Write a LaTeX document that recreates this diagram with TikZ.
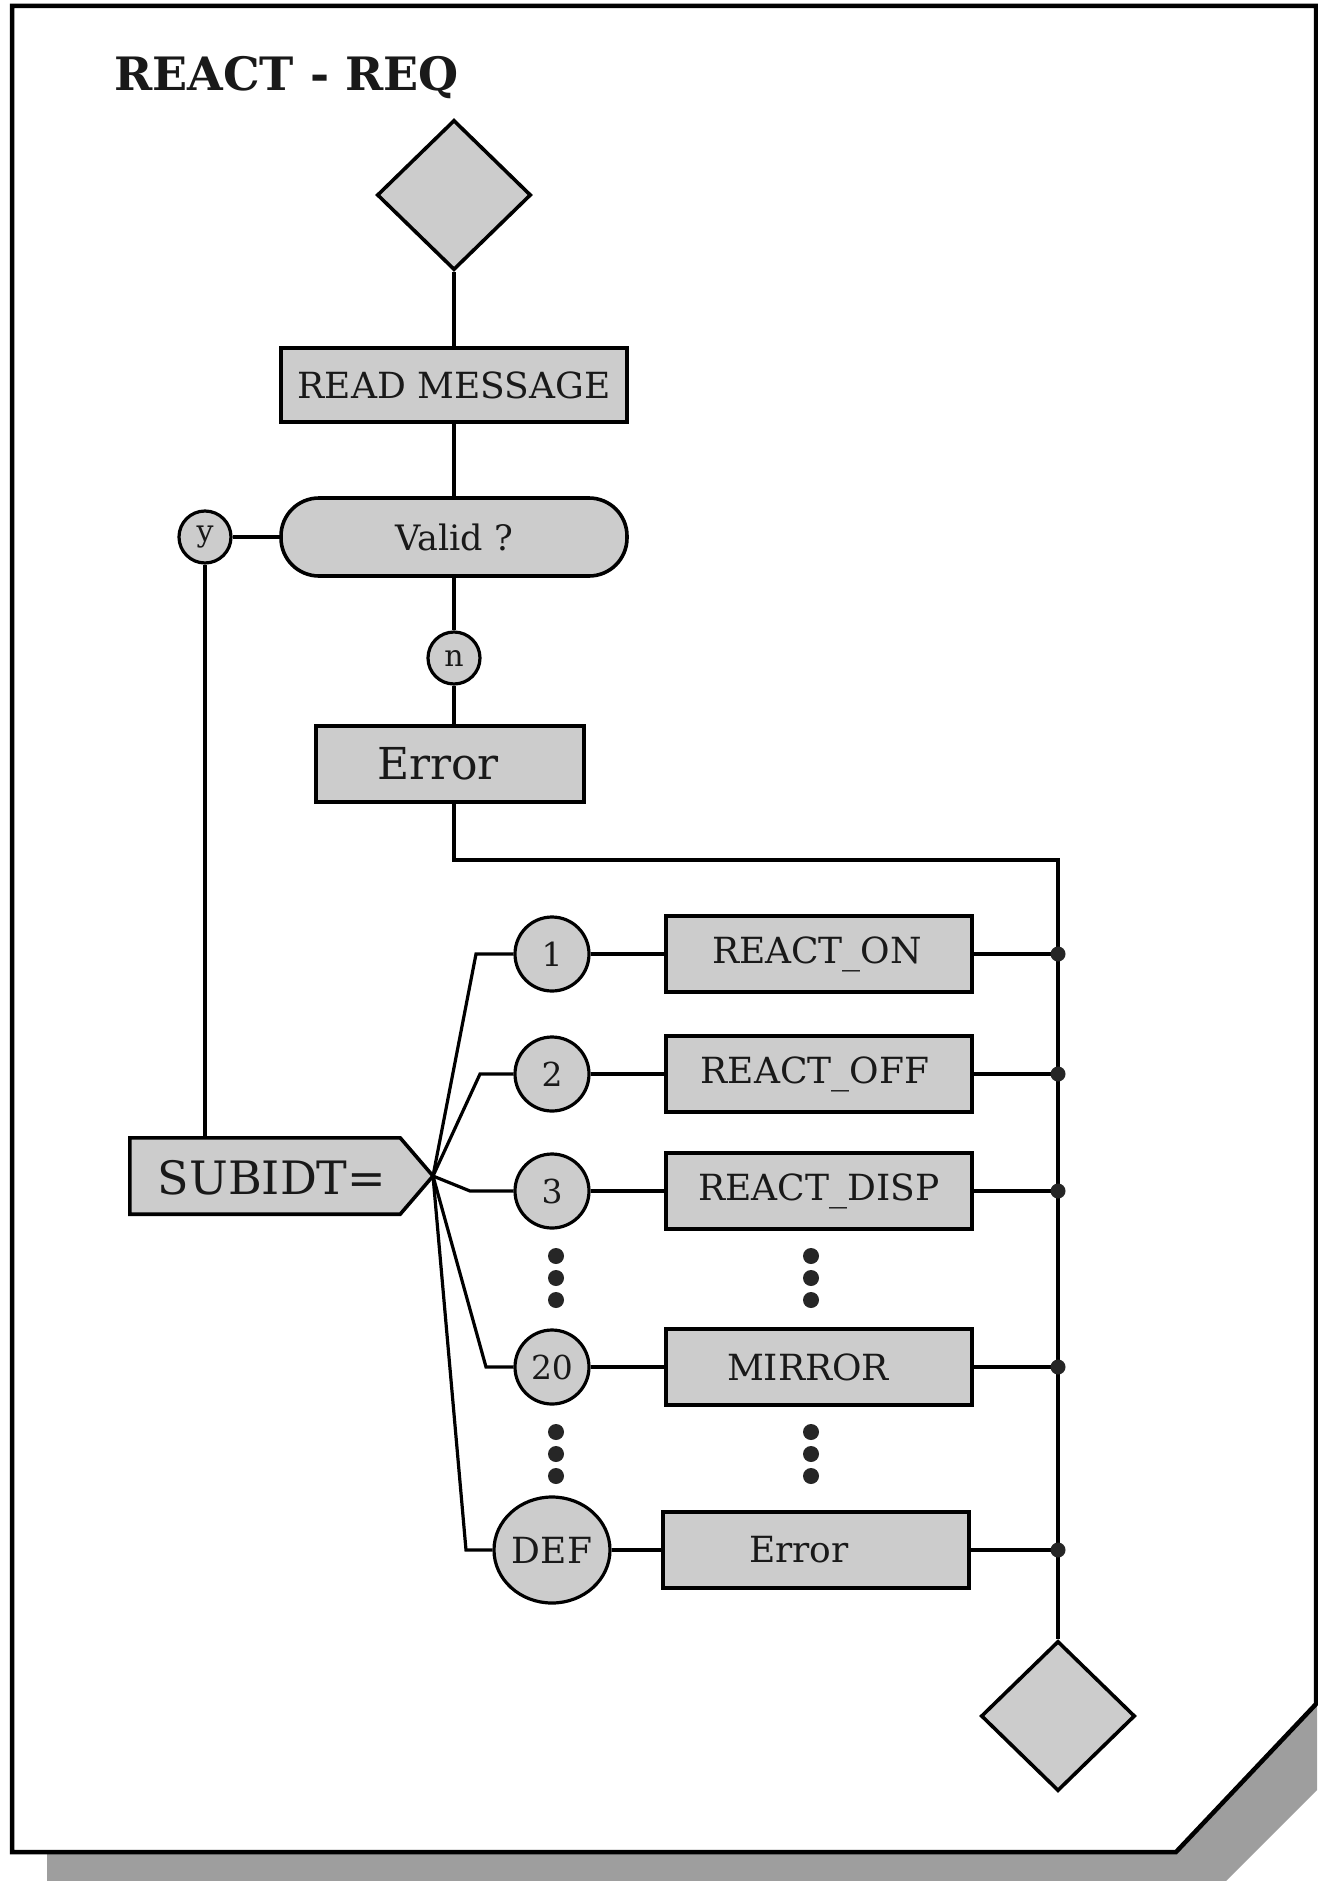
\documentclass[tikz,border=0pt]{standalone}
\usepackage{fontspec}
\setmainfont{DejaVu Serif}
\usetikzlibrary{shapes.geometric}
\definecolor{shade}{gray}{0.80}
\definecolor{shadowc}{gray}{0.62}
\newcommand\myfs[1]{\fontsize{#1}{#1}\selectfont}
\newcommand\lsh[1]{\hspace*{-#1}}
\tikzset{
  conn/.style={line width=3.2pt},
  boxst/.style={draw, rectangle, line width=3.6pt, fill=shade, inner sep=0pt, text=black!90},
  circst/.style={draw, circle, line width=3.2pt, fill=shade, inner sep=0pt, text=black!90},
  ellst/.style={draw, ellipse, line width=3.2pt, fill=shade, inner sep=0pt, text=black!90},
  diast/.style={draw, diamond, line width=3.6pt, fill=shade, inner sep=0pt, minimum width=154pt, minimum height=150pt},
  junc/.style={fill=black!85},
}
\begin{document}
\begin{tikzpicture}[x=1pt,y=-1pt]
\useasboundingbox (0,0) rectangle (1317,1881);
% shadow and frame
\fill[shadowc] (47,1852) -- (1176,1852) -- (1317,1702) -- (1317,1790) -- (1226,1881) -- (47,1881) -- cycle;
\draw[line width=4.5pt, fill=white] (12,6) -- (1316,6) -- (1316,1704) -- (1176,1852) -- (12,1852) -- cycle;
% title
\node[anchor=base west, inner sep=0pt, text=black!90] (title) at (114,91) {\myfs{46}\bfseries REACT - REQ};
% main column
\node[diast] (start) at (454,195) {};
\node[boxst, minimum width=346pt, minimum height=74pt] (read) at (454,385) {\myfs{36}READ MESSAGE};
\node[boxst, rounded corners=38pt, minimum width=346pt, minimum height=78pt] (valid) at (454,537) {\myfs{35}Valid ?};
\node[circst, minimum size=52pt] (yc) at (205,537) {\myfs{30}y};
\node[circst, minimum size=52pt] (nc) at (454,658) {\myfs{30}n};
\node[boxst, minimum width=268pt, minimum height=76pt] (err1) at (450,764) {\myfs{44}\lsh{24pt}Error};
% SUBIDT
\node[minimum width=270pt, minimum height=76pt, inner sep=0pt] (sub) at (265,1176) {};
\coordinate (subtip) at (433,1176);
\draw[line width=3.6pt, fill=shade] (sub.north west) -- (sub.north east) -- (subtip) -- (sub.south east) -- (sub.south west) -- cycle;
\node[text=black!90] (subtxt) at (272,1178) {\myfs{46}SUBIDT=};
% case circles
\node[circst, minimum size=74pt] (c1) at (552,954) {\myfs{33}1};
\node[circst, minimum size=74pt] (c2) at (552,1074) {\myfs{33}2};
\node[circst, minimum size=74pt] (c3) at (552,1191) {\myfs{33}3};
\node[circst, minimum size=74pt] (c20) at (552,1367) {\myfs{33}20};
\node[ellst, minimum width=116pt, minimum height=106pt] (cdef) at (552,1550) {\myfs{36}DEF};
% action boxes
\node[boxst, minimum width=306pt, minimum height=76pt] (bon) at (819,954) {\myfs{36}\lsh{4pt}REACT\_ON};
\node[boxst, minimum width=306pt, minimum height=76pt] (boff) at (819,1074) {\myfs{36}\lsh{8pt}REACT\_OFF};
\node[boxst, minimum width=306pt, minimum height=76pt] (bdisp) at (819,1191) {\myfs{36}REACT\_DISP};
\node[boxst, minimum width=306pt, minimum height=76pt] (bmir) at (819,1367) {\myfs{36}\lsh{22pt}MIRROR};
\node[boxst, minimum width=306pt, minimum height=76pt] (berr) at (816,1550) {\myfs{36}\lsh{34pt}Error};
% end diamond
\node[diast] (stop) at (1058,1716) {};
\coordinate (corner) at (1058,860);
% connectors main column
\draw[conn] (start.south) -- (read.north);
\draw[conn] (read.south) -- (valid.north);
\draw[conn] (valid.west) -- (yc.east);
\draw[conn] (valid.south) -- (nc.north);
\draw[conn] (nc.south) -- (nc.south |- err1.north);
\draw[conn] (yc.south) -- (yc.south |- sub.north);
\draw[conn] (nc.south |- err1.south) |- (corner) -- (stop.north);
% fan
\draw[conn] (subtip) -- (476,954) -- (c1.west);
\draw[conn] (subtip) -- (480,1074) -- (c2.west);
\draw[conn] (subtip) -- (470,1191) -- (c3.west);
\draw[conn] (subtip) -- (486,1367) -- (c20.west);
\draw[conn] (subtip) -- (466,1550) -- (cdef.west);
% circle to box to bus
\foreach \c/\b in {c1/bon, c2/boff, c3/bdisp, c20/bmir, cdef/berr}{
  \draw[conn] (\c.east) -- (\b.west);
  \draw[conn] (\b.east) -- (\b.east -| corner);
  \fill[junc] (\b.east -| corner) circle (7.5pt);
}
% ellipsis dots
\foreach \yy in {1256,1278,1300,1432,1454,1476}{
  \fill[black!85] (556,\yy) circle (8pt);
  \fill[black!85] (811,\yy) circle (8pt);
}
\end{tikzpicture}
\end{document}
